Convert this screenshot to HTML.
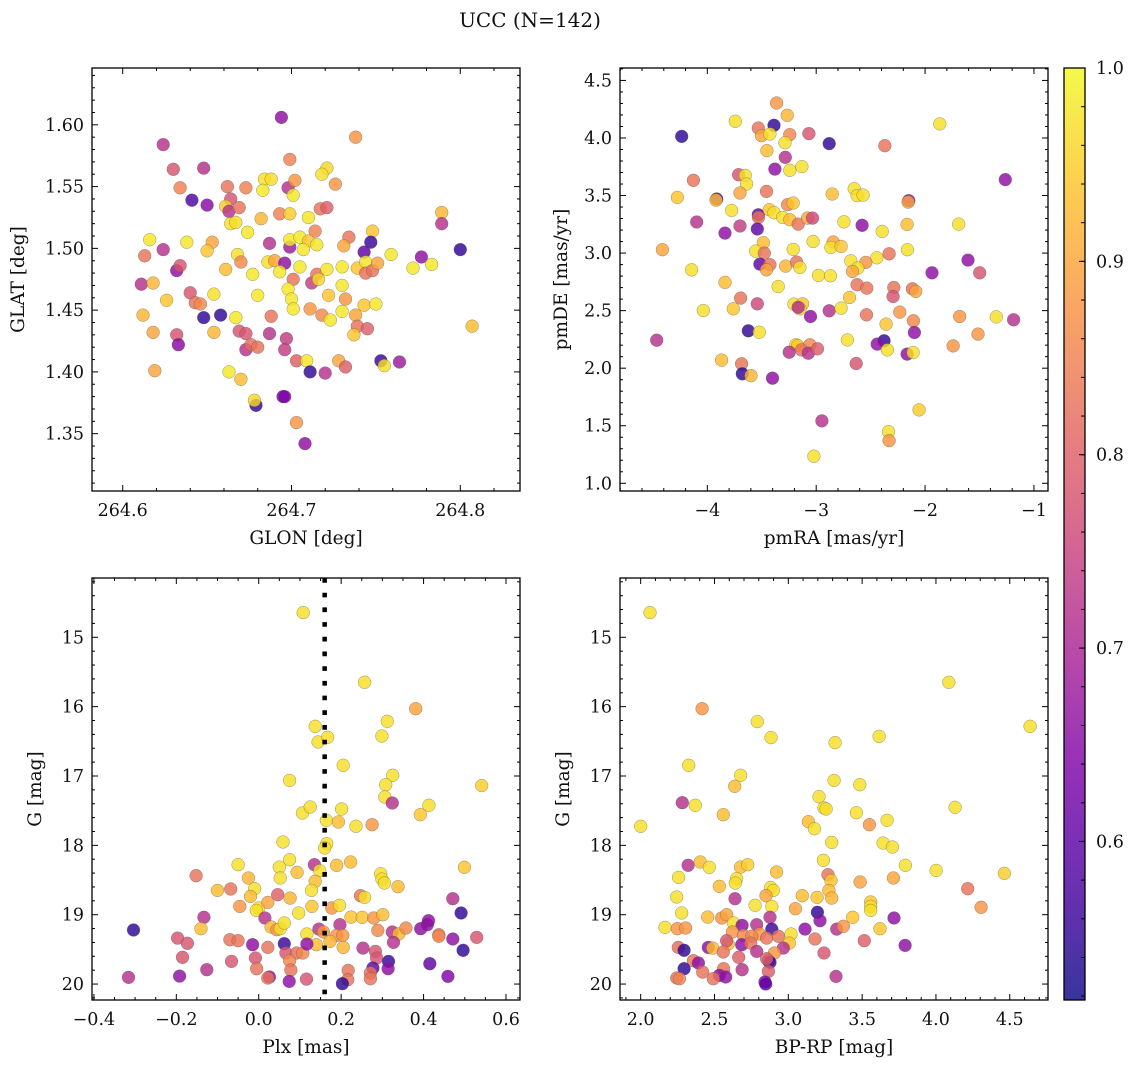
<!DOCTYPE html>
<html><head><meta charset="utf-8">
<style>
html,body{margin:0;padding:0;background:#fff;}
svg{display:block;font-family:"DejaVu Serif","Liberation Serif",serif;}
</style></head>
<body>
<svg id="fig" width="1136" height="1068" viewBox="0 0 1136 1068" xmlns="http://www.w3.org/2000/svg">
<rect width="1136" height="1068" fill="#fff"/>
<text x="530" y="27" font-size="20" text-anchor="middle" fill="#111">UCC (N=142)</text>
<defs>
<linearGradient id="plasmaGrad" x1="0" y1="1" x2="0" y2="0"></linearGradient>
</defs>
<g id="root"></g>
</svg>
<script>
// ---------- Data ----------
// Panel 1: GLON / GLAT
const p1Glon=[264.694,264.624,264.738,264.630,264.648,264.699,264.634,264.641,264.650,264.662,264.664,264.661,264.663,264.669,264.673,264.684,264.688,264.683,264.698,264.702,264.701,264.721,264.718,264.726,264.664,264.667,264.682,264.693,264.699,264.710,264.717,264.721,264.674,264.714,264.616,264.613,264.624,264.638,264.653,264.650,264.668,264.670,264.687,264.699,264.699,264.705,264.710,264.707,264.715,264.734,264.731,264.748,264.747,264.743,264.759,264.789,264.789,264.800,264.777,264.772,264.783,264.632,264.634,264.611,264.618,264.626,264.612,264.618,264.619,264.640,264.643,264.646,264.654,264.661,264.677,264.686,264.690,264.696,264.693,264.705,264.701,264.712,264.715,264.716,264.721,264.730,264.739,264.744,264.744,264.748,264.751,264.680,264.698,264.700,264.701,264.711,264.718,264.723,264.722,264.730,264.732,264.730,264.738,264.743,264.750,264.648,264.658,264.667,264.654,264.688,264.632,264.633,264.669,264.673,264.673,264.676,264.680,264.687,264.697,264.696,264.703,264.709,264.711,264.720,264.728,264.732,264.739,264.737,264.745,264.753,264.755,264.764,264.807,264.663,264.670,264.679,264.678,264.695,264.696,264.703,264.708];
const p1Glat=[1.606,1.584,1.590,1.564,1.565,1.572,1.549,1.539,1.535,1.550,1.540,1.534,1.530,1.533,1.549,1.556,1.556,1.547,1.549,1.555,1.543,1.565,1.560,1.552,1.520,1.521,1.524,1.528,1.528,1.525,1.532,1.533,1.513,1.514,1.507,1.494,1.499,1.505,1.505,1.498,1.495,1.489,1.504,1.501,1.507,1.509,1.506,1.499,1.503,1.509,1.502,1.514,1.505,1.497,1.495,1.529,1.520,1.499,1.493,1.484,1.487,1.482,1.486,1.471,1.472,1.458,1.446,1.432,1.401,1.464,1.456,1.455,1.463,1.483,1.479,1.489,1.490,1.488,1.481,1.485,1.475,1.472,1.479,1.475,1.483,1.485,1.484,1.489,1.480,1.482,1.488,1.462,1.467,1.459,1.451,1.451,1.446,1.442,1.462,1.470,1.459,1.449,1.446,1.454,1.455,1.444,1.446,1.444,1.432,1.445,1.430,1.422,1.433,1.431,1.418,1.422,1.420,1.431,1.427,1.418,1.409,1.409,1.400,1.399,1.409,1.404,1.437,1.430,1.435,1.409,1.405,1.408,1.437,1.400,1.394,1.373,1.377,1.380,1.380,1.359,1.342];
const p1Prob=[.66,.72,.88,.78,.72,.85,.85,.58,.65,.83,.78,.95,.72,.83,.85,.97,.97,.98,.72,.88,.98,.96,.97,.88,.97,.97,.92,.85,.95,.98,.83,.8,.98,.85,.98,.83,.72,.98,.9,.94,.97,.86,.72,.68,.98,.98,.94,.98,.98,.83,.9,.94,.56,.6,.98,.92,.72,.55,.66,.98,.98,.66,.78,.72,.92,.94,.92,.9,.9,.78,.83,.86,.97,.93,.98,.97,.9,.66,.98,.98,.83,.74,.83,.96,.98,.98,.94,.98,.83,.83,.9,.98,.98,.98,.98,.88,.86,.98,.94,.98,.88,.98,.9,.94,.98,.55,.55,.98,.92,.83,.78,.65,.78,.78,.72,.82,.83,.72,.74,.74,.8,.98,.55,.72,.9,.8,.83,.94,.8,.56,.97,.68,.93,.98,.93,.55,.96,.64,.64,.88,.66];
// Panel 2: pmRA / pmDE
const p2Pmra=[-3.364,-3.266,-3.743,-4.235,-3.532,-3.388,-3.502,-3.425,-3.242,-3.067,-2.881,-3.287,-3.453,-2.370,-1.865,-3.284,-3.379,-3.242,-3.131,-3.713,-3.651,-3.639,-4.128,-1.263,-4.275,-3.914,-3.92,-3.700,-3.456,-2.853,-2.651,-2.624,-2.569,-2.150,-2.156,-3.777,-4.098,-3.838,-3.700,-3.532,-3.53,-3.541,-3.431,-3.388,-3.309,-3.263,-3.211,-3.242,-3.165,-3.080,-3.034,-2.746,-2.578,-2.394,-2.165,-1.691,-4.413,-3.486,-3.557,-3.477,-3.211,-3.028,-2.844,-2.865,-2.771,-2.162,-2.330,-2.443,-2.544,-2.682,-2.618,-2.667,-3.517,-3.425,-3.456,-3.281,-3.180,-3.150,-2.979,-2.869,-4.144,-1.606,-1.936,-1.498,-3.838,-3.349,-2.624,-2.535,-2.287,-2.294,-2.116,-2.086,-2.694,-3.694,-3.541,-4.037,-3.761,-3.205,-3.125,-3.150,-3.165,-2.881,-2.771,-3.052,-2.538,-2.232,-2.107,-2.358,-2.098,-1.682,-1.346,-1.187,-1.514,-1.743,-4.465,-3.624,-3.523,-3.187,-3.171,-3.058,-3.248,-3.135,-3.073,-2.988,-2.713,-2.376,-2.440,-2.346,-2.165,-2.110,-2.633,-3.869,-3.685,-3.679,-3.599,-3.401,-2.948,-2.055,-2.336,-2.330,-3.021];
const p2Pmde=[4.304,4.197,4.145,4.014,4.087,4.110,4.020,4.035,4.029,4.038,3.951,3.959,3.890,3.933,4.122,3.832,3.730,3.719,3.751,3.681,3.675,3.600,3.632,3.638,3.484,3.470,3.46,3.522,3.536,3.513,3.559,3.499,3.504,3.455,3.443,3.371,3.270,3.174,3.235,3.333,3.31,3.209,3.377,3.351,3.310,3.420,3.435,3.290,3.252,3.304,3.304,3.272,3.241,3.188,3.249,3.252,3.029,3.090,3.017,3.000,3.032,3.101,3.096,3.049,3.058,3.029,2.994,2.959,2.919,2.933,2.870,2.841,2.904,2.899,2.855,2.887,2.922,2.875,2.806,2.803,2.855,2.939,2.829,2.829,2.745,2.710,2.725,2.696,2.701,2.623,2.690,2.667,2.614,2.609,2.559,2.501,2.516,2.557,2.559,2.516,2.528,2.499,2.522,2.449,2.464,2.487,2.412,2.383,2.310,2.449,2.446,2.420,2.296,2.194,2.243,2.325,2.313,2.203,2.197,2.203,2.139,2.159,2.130,2.168,2.246,2.238,2.209,2.159,2.122,2.136,2.041,2.070,2.038,1.951,1.936,1.913,1.542,1.638,1.449,1.371,1.235];
const p2Prob=[.88,.92,.97,.55,.83,.55,.9,.97,.86,.78,.55,.97,.93,.83,.97,.72,.66,.97,.97,.78,.97,.97,.83,.66,.94,.58,.93,.9,.83,.93,.97,.97,.97,.66,.9,.97,.72,.66,.74,.6,.83,.6,.94,.97,.97,.86,.94,.93,.83,.9,.76,.97,.66,.97,.93,.97,.9,.93,.97,.83,.97,.97,.9,.97,.94,.97,.83,.97,.88,.97,.97,.9,.6,.83,.9,.92,.83,.97,.97,.97,.97,.66,.66,.78,.93,.97,.83,.83,.83,.78,.83,.9,.94,.83,.76,.97,.94,.97,.94,.97,.72,.72,.97,.66,.83,.88,.86,.94,.66,.88,.97,.72,.88,.88,.72,.55,.97,.97,.94,.86,.72,.83,.72,.8,.97,.55,.66,.97,.66,.97,.78,.93,.83,.55,.92,.66,.72,.95,.97,.88,.97];
// Panel 3: Plx / G
const p3Plx=[0.108,0.257,0.381,0.137,0.144,0.167,0.312,0.299,0.205,0.075,0.325,0.308,0.306,0.324,0.541,0.413,0.392,0.106,0.125,0.201,0.164,0.193,0.236,0.275,0.059,0.165,0.160,-0.050,0.075,0.050,0.052,0.093,0.135,0.148,0.137,0.189,0.223,0.296,0.299,0.305,0.338,0.499,-0.152,-0.025,-0.100,-0.068,-0.010,-0.020,0.046,0.076,0.128,0.247,0.257,0.471,-0.046,0.000,-0.006,0.022,0.129,0.097,0.177,0.196,0.224,0.251,0.279,0.301,0.491,-0.133,0.015,-0.304,-0.140,0.030,0.044,0.052,0.062,0.117,0.146,0.157,0.197,0.189,0.204,0.173,0.205,0.140,0.289,0.324,0.340,0.357,0.327,0.393,0.409,0.412,0.437,0.437,0.471,0.529,0.496,-0.197,-0.173,-0.185,-0.070,-0.050,-0.015,0.022,0.062,0.066,0.092,0.107,0.117,-0.008,-0.066,-0.005,0.075,0.078,0.026,0.022,0.074,0.116,-0.126,-0.192,-0.316,0.253,0.283,0.286,0.315,0.314,0.277,0.271,0.271,0.217,0.216,0.203,0.415,0.459];
const p3G=[14.644,15.649,16.029,16.284,16.510,16.442,16.212,16.423,16.846,17.063,16.990,17.125,17.303,17.389,17.139,17.423,17.558,17.534,17.447,17.476,17.639,17.663,17.726,17.702,17.952,17.976,18.038,18.279,18.207,18.313,18.471,18.389,18.279,18.365,18.519,18.288,18.240,18.409,18.486,18.543,18.596,18.317,18.438,18.471,18.649,18.630,18.625,18.736,18.712,18.760,18.649,18.726,18.750,18.769,18.880,18.904,18.938,18.822,18.880,18.976,18.904,18.865,19.034,19.038,19.048,19.000,18.976,19.038,19.048,19.221,19.202,19.178,19.216,19.202,19.120,19.279,19.207,19.250,19.144,19.298,19.298,19.385,19.471,19.433,19.226,19.250,19.279,19.192,19.399,19.202,19.144,19.087,19.288,19.312,19.351,19.327,19.514,19.337,19.413,19.615,19.361,19.375,19.433,19.471,19.418,19.553,19.553,19.553,19.423,19.625,19.673,19.779,19.663,19.798,19.899,19.913,19.962,19.928,19.793,19.885,19.904,19.481,19.529,19.625,19.673,19.779,19.769,19.841,19.923,19.803,19.938,19.995,19.707,19.889];
const p3Prob=[.97,.97,.9,.97,.97,.97,.97,.97,.97,.97,.97,.97,.97,.72,.95,.97,.94,.97,.97,.97,.97,.93,.97,.88,.97,.97,.97,.97,.97,.97,.97,.93,.72,.97,.93,.93,.93,.97,.97,.97,.93,.94,.83,.92,.93,.83,.97,.93,.8,.92,.97,.83,.97,.72,.88,.97,.97,.9,.94,.97,.88,.97,.94,.94,.88,.93,.55,.72,.72,.55,.93,.92,.88,.97,.97,.97,.72,.88,.72,.88,.88,.92,.92,.93,.86,.72,.93,.86,.72,.66,.66,.66,.83,.86,.66,.78,.55,.78,.78,.78,.83,.83,.66,.83,.56,.78,.82,.86,.66,.78,.78,.83,.86,.83,.66,.83,.66,.78,.72,.66,.72,.72,.78,.78,.56,.66,.6,.83,.83,.83,.83,.55,.6,.64];
// Panel 4: BP-RP / G
const p4Bprp=[2.063,4.087,4.638,2.416,2.790,2.883,3.317,3.615,2.325,2.677,2.637,3.310,3.484,2.282,2.370,2.560,2.000,3.208,3.242,3.256,3.136,3.177,3.461,3.549,3.669,4.130,3.294,3.642,3.705,3.238,3.793,4.001,4.464,2.321,2.404,2.465,2.257,2.244,2.278,2.165,2.533,2.677,2.725,2.650,2.641,2.639,2.921,2.880,2.899,2.849,2.775,2.888,3.269,3.289,3.275,3.294,3.095,3.195,3.048,3.486,3.712,3.558,3.558,3.558,4.215,4.306,3.197,3.215,3.113,3.328,3.373,3.436,3.621,3.716,3.791,3.515,3.181,3.242,3.323,2.454,2.549,2.583,2.628,2.248,2.305,2.687,2.786,2.876,2.888,2.621,2.696,2.804,2.853,2.933,3.018,3.007,2.966,2.752,2.684,2.745,2.786,2.593,2.582,2.458,2.488,2.560,2.255,2.294,2.664,2.906,2.865,2.876,2.853,2.357,2.391,2.420,2.294,2.562,2.687,2.865,2.533,2.576,2.492,2.244,2.262,2.842,2.847];
const p4G=[14.644,15.649,16.284,16.029,16.216,16.447,16.519,16.428,16.846,16.990,17.149,17.063,17.125,17.385,17.423,17.558,17.726,17.298,17.462,17.476,17.659,17.760,17.529,17.702,17.639,17.452,17.957,17.966,18.024,18.216,18.288,18.361,18.404,18.288,18.240,18.317,18.462,18.745,18.976,19.183,18.591,18.313,18.279,18.481,18.543,18.769,18.385,18.606,18.649,18.726,18.865,18.880,18.423,18.505,18.649,18.760,18.726,18.750,18.913,18.529,18.471,18.817,18.880,18.938,18.625,18.894,18.966,19.087,19.207,19.207,19.168,19.038,19.202,19.048,19.442,19.375,19.351,19.553,19.889,19.034,19.048,19.000,19.120,19.202,19.192,19.154,19.144,19.038,19.207,19.250,19.298,19.279,19.337,19.312,19.279,19.409,19.481,19.312,19.433,19.409,19.529,19.423,19.375,19.471,19.481,19.538,19.471,19.514,19.615,19.553,19.663,19.688,19.635,19.663,19.697,19.827,19.779,19.779,19.793,19.817,19.875,19.899,19.923,19.913,19.923,19.971,20.000];
const p4Prob=[.97,.97,.97,.88,.97,.97,.97,.97,.97,.97,.93,.97,.97,.72,.97,.93,.97,.97,.97,.97,.93,.97,.97,.88,.97,.97,.97,.97,.97,.97,.97,.97,.95,.72,.93,.97,.97,.97,.97,.97,.93,.93,.95,.97,.97,.72,.93,.97,.97,.9,.97,.97,.83,.94,.93,.92,.93,.94,.9,.9,.9,.94,.97,.97,.83,.88,.55,.66,.66,.72,.88,.94,.94,.66,.66,.8,.83,.78,.72,.93,.88,.9,.97,.88,.88,.66,.72,.72,.56,.88,.86,.88,.83,.83,.97,.94,.72,.86,.66,.83,.72,.93,.78,.66,.93,.83,.82,.55,.8,.88,.76,.56,.8,.83,.66,.83,.55,.83,.72,.8,.66,.66,.83,.83,.85,.64,.6];
// Reference line & colorbar
const plxLine=[0.16];
const cbarTicks=[0.6,0.7,0.8,0.9,1.0];
const cbarDomain=[0.518,1.0];

// ---------- helpers ----------
const NS="http://www.w3.org/2000/svg";
const root=document.getElementById('root');
function mk(tag,attrs,parent){const e=document.createElementNS(NS,tag);for(const k in attrs)e.setAttribute(k,attrs[k]);(parent||root).appendChild(e);return e;}
const stops=[[0,[13,8,135]],[0.125,[76,2,161]],[0.25,[126,3,168]],[0.375,[169,35,149]],[0.5,[204,71,120]],[0.625,[229,107,93]],[0.75,[248,148,65]],[0.875,[253,195,40]],[1,[240,249,33]]];
function plasma(t){t=Math.max(0,Math.min(1,t));for(let i=1;i<stops.length;i++){if(t<=stops[i][0]){const a=stops[i-1],b=stops[i];const f=(t-a[0])/(b[0]-a[0]);const c=a[1].map((v,j)=>Math.round(v+(b[1][j]-v)*f));return `rgb(${c[0]},${c[1]},${c[2]})`;}}return 'rgb(240,249,33)';}
function lin(d0,d1,r0,r1){return v=>r0+(v-d0)/(d1-d0)*(r1-r0);}
function fmt(v,dec){let s=v.toFixed(dec);if(v<-1e-9)s='\u2212'+s.slice(1);if(Math.abs(v)<1e-9)s=(0).toFixed(dec);return s;}

function panel(cfg){
  const g=mk('g',{});
  
  
  const sx=lin(cfg.xd[0],cfg.xd[1],cfg.x0,cfg.x1);
  const sy=lin(cfg.yd[0],cfg.yd[1],cfg.y1,cfg.y0);
  const pts=mk('g',{},g);
  
  
  for(let i=0;i<cfg.xs.length;i++){
    const c=mk('circle',{cx:sx(cfg.xs[i]).toFixed(1),cy:sy(cfg.ys[i]).toFixed(1),r:6.4,fill:plasma((cfg.cs[i]-cbarDomain[0])/(cbarDomain[1]-cbarDomain[0])),'fill-opacity':0.82,stroke:'#555','stroke-opacity':0.6,'stroke-width':0.5},pts);
    
    
  }
  if(cfg.extra)cfg.extra(g,sx,sy);
  const fr=mk('rect',{x:cfg.x0,y:cfg.y0,width:cfg.x1-cfg.x0,height:cfg.y1-cfg.y0,fill:'none',stroke:'#000','stroke-width':1.3},g);
  
  
  const tk=mk('g',{stroke:'#000','stroke-width':1},g);
  
  
  const xlo=Math.min(...cfg.xd),xhi=Math.max(...cfg.xd),ylo=Math.min(...cfg.yd),yhi=Math.max(...cfg.yd);
  for(let k=Math.ceil(xlo/cfg.xmin-1e-6);k*cfg.xmin<=xhi+1e-9;k++){
    const v=k*cfg.xmin;const px=sx(v);
    const maj=Math.abs(v/cfg.xmaj-Math.round(v/cfg.xmaj))<1e-4;const L=maj?6:3;
    mk('line',{x1:px,x2:px,y1:cfg.y1,y2:cfg.y1-L},tk);mk('line',{x1:px,x2:px,y1:cfg.y0,y2:cfg.y0+L},tk);
    if(maj){const t=mk('text',{x:px,y:cfg.y1+25,'font-size':17.5,'text-anchor':'middle',fill:'#111',stroke:'none'},g);t.textContent=fmt(v,cfg.xdec);
      
      }
  }
  for(let k=Math.ceil(ylo/cfg.ymin-1e-6);k*cfg.ymin<=yhi+1e-9;k++){
    const v=k*cfg.ymin;const py=sy(v);
    const maj=Math.abs(v/cfg.ymaj-Math.round(v/cfg.ymaj))<1e-4;const L=maj?6:3;
    mk('line',{x1:cfg.x0,x2:cfg.x0+L,y1:py,y2:py},tk);mk('line',{x1:cfg.x1,x2:cfg.x1-L,y1:py,y2:py},tk);
    if(maj){const t=mk('text',{x:cfg.x0-8,y:py+6,'font-size':17.5,'text-anchor':'end',fill:'#111',stroke:'none'},g);t.textContent=fmt(v,cfg.ydec);
      
      }
  }
  const xl=mk('text',{x:(cfg.x0+cfg.x1)/2,y:cfg.y1+53,'font-size':18.5,'text-anchor':'middle',fill:'#111'},g);
  xl.textContent=cfg.xlabel;
  
  
  const yx=cfg.ylx,yy=(cfg.y0+cfg.y1)/2;
  const yl=mk('text',{x:yx,y:yy,'font-size':18.5,'text-anchor':'middle',fill:'#111',transform:`rotate(-90 ${yx} ${yy})`},g);
  yl.textContent=cfg.ylabel;
  
  
}

panel({name:'glon-glat-panel',x0:92,x1:520,y0:68,y1:491,xd:[264.5818,264.8354],yd:[1.3036,1.646],xs:p1Glon,ys:p1Glat,cs:p1Prob,xmaj:0.1,xmin:0.02,ymaj:0.05,ymin:0.01,xdec:1,ydec:2,xlabel:'GLON [deg]',ylabel:'GLAT [deg]',ylx:24});
panel({name:'pm-panel',x0:620,x1:1048,y0:68,y1:491,xd:[-4.802,-0.871],yd:[0.933,4.608],xs:p2Pmra,ys:p2Pmde,cs:p2Prob,xmaj:1,xmin:0.2,ymaj:0.5,ymin:0.1,xdec:0,ydec:1,xlabel:'pmRA [mas/yr]',ylabel:'pmDE [mas/yr]',ylx:567});
panel({name:'plx-g-panel',x0:92,x1:520,y0:578,y1:1000,xd:[-0.4046,0.634],yd:[20.23,14.145],xs:p3Plx,ys:p3G,cs:p3Prob,xmaj:0.2,xmin:0.05,ymaj:1,ymin:0.2,xdec:1,ydec:0,xlabel:'Plx [mas]',ylabel:'G [mag]',ylx:41,
  extra:(g,sx,sy)=>{plxLine.forEach(v=>{const l=mk('line',{x1:sx(v),x2:sx(v),y1:578,y2:1000,stroke:'#000','stroke-width':4.5,'stroke-dasharray':'4.7 10'},g);
    
    });}});
panel({name:'cmd-panel',x0:620,x1:1048,y0:578,y1:1000,xd:[1.860,4.759],yd:[20.23,14.145],xs:p4Bprp,ys:p4G,cs:p4Prob,xmaj:0.5,xmin:0.1,ymaj:1,ymin:0.2,xdec:1,ydec:0,xlabel:'BP-RP [mag]',ylabel:'G [mag]',ylx:569});

(function(){
  const grad=document.getElementById('plasmaGrad');
  for(let i=0;i<=16;i++){const t=i/16;mk('stop',{offset:t,'stop-color':plasma(t)},grad);}
  const cb=mk('g',{});
  
  
  const x0=1064,x1=1085,y0=68,y1=1000;
  mk('rect',{x:x0,y:y0,width:x1-x0,height:y1-y0,fill:'url(#plasmaGrad)','fill-opacity':0.82},cb);
  mk('rect',{x:x0,y:y0,width:x1-x0,height:y1-y0,fill:'none',stroke:'#000','stroke-width':1.3},cb);
  const s=lin(cbarDomain[0],cbarDomain[1],y1,y0);
  for(let k=Math.ceil(cbarDomain[0]/0.02);k*0.02<=1.0001;k++){const py=s(k*0.02);mk('line',{x1:x1,x2:x1-4,y1:py,y2:py,stroke:'#000','stroke-width':1},cb);}
  cbarTicks.forEach(v=>{const py=s(v);mk('line',{x1:x1,x2:x1-6,y1:py,y2:py,stroke:'#000','stroke-width':1},cb);
    const t=mk('text',{x:1096,y:py+6,'font-size':17.5,fill:'#111'},cb);t.textContent=v.toFixed(1);
    
    });
})();
</script>
</body></html>
